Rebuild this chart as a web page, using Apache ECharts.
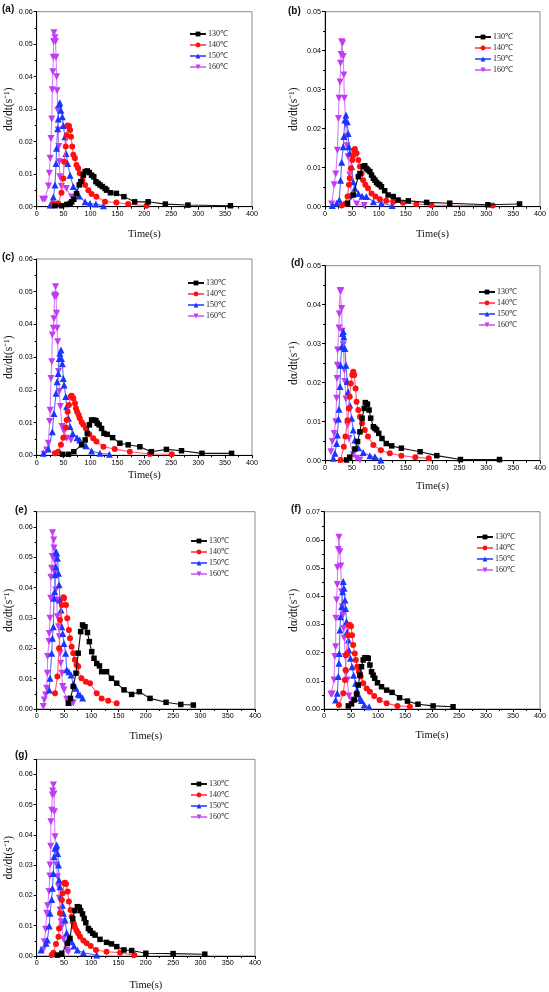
<!DOCTYPE html>
<html><head><meta charset="utf-8">
<script src="https://cdn.jsdelivr.net/npm/echarts@6/dist/echarts.min.js"></script>
<style>html,body{margin:0;padding:0;background:#fff}#c{width:549px;height:992px}</style>
</head><body><div id="c"></div>
<script>
// ---------- DATA ----------
const seriesNames = ['130℃','140℃','150℃','160℃'];
const panelLabels = ['(a)','(b)','(c)','(d)','(e)','(f)','(g)'];
const xTicks = [0,50,100,150,200,250,300,350,400];
const yMaxes = [0.06,0.05,0.06,0.05,0.065,0.07,0.065];

const a130=[[34,0.0003],[46,0.0003],[56,0.0007],[62,0.001],[65,0.0015],[69,0.0023],[74,0.004],[79,0.0067],[82,0.0077],[86.6,0.0097],[90,0.0108],[94,0.011],[97.7,0.0105],[102,0.0097],[106,0.0092],[110,0.0077],[114,0.0072],[117.5,0.0067],[122,0.0062],[127,0.0056],[130,0.0051],[137,0.0043],[148,0.0041],[162,0.0031],[182,0.0015],[207,0.0015],[239,0.0008],[281,0.0005],[360,0.0003]];
const a140=[[31,0.001],[40,0.001],[46,0.0043],[49.5,0.0087],[51,0.0138],[54,0.0185],[55.6,0.022],[57.5,0.025],[60,0.0248],[62,0.0236],[63.7,0.0215],[66,0.0185],[68,0.016],[71,0.0149],[74,0.0128],[77,0.0118],[80,0.0103],[85,0.0082],[90,0.0067],[96,0.0051],[102,0.0039],[111,0.0031],[127,0.0015],[148,0.0013],[170,0.0008],[204,0.0003]];
const a150=[[25,0.0005],[31,0.003],[34,0.0067],[36,0.0133],[37,0.018],[39,0.024],[40,0.027],[41.5,0.0315],[43,0.032],[45,0.0297],[47.6,0.0277],[49.5,0.025],[52.5,0.0215],[54.4,0.0164],[57.5,0.0133],[62,0.0097],[68,0.0062],[74,0.0046],[79,0.0033],[90,0.0015],[99,0.001],[110,0.0008],[124,0.0003]];
const a160=[[11,0.0023],[15,0.0023],[22,0.0064],[23.5,0.0103],[25,0.0149],[26.6,0.021],[28,0.027],[29,0.036],[30,0.0415],[31,0.046],[31.5,0.0508],[32,0.0535],[34,0.052],[35,0.0508],[36,0.046],[37,0.04],[38,0.0357],[39,0.0297],[40,0.0236],[41,0.0185],[42,0.0138],[43,0.0092],[46,0.0062],[55,0.0056],[65,0.003]];

const b130=[[42,0.0009],[52.5,0.003],[62,0.0077],[65,0.0085],[71,0.0103],[74,0.0105],[77,0.0098],[80,0.0094],[83.5,0.009],[86.6,0.0081],[90,0.0073],[93,0.0068],[96,0.0062],[99,0.0058],[102,0.0056],[105,0.0051],[111,0.0041],[117.5,0.003],[127,0.0026],[136,0.0017],[155,0.0015],[189,0.0011],[232,0.0009],[303,0.0005],[362,0.0007]];
const b140=[[31,0.0003],[37,0.0007],[42,0.0026],[44.5,0.0056],[46,0.0073],[48,0.0098],[50.7,0.012],[52.5,0.0132],[54.4,0.0145],[55.6,0.0148],[58.7,0.0137],[62,0.012],[65,0.0103],[68,0.0085],[71,0.0068],[75,0.0056],[80,0.0047],[86.6,0.0034],[94,0.0026],[102,0.0019],[114,0.0015],[127,0.0013],[145,0.001],[170,0.0007],[198,0.0004],[312,0.0003]];
const b150=[[13.6,0.0003],[21.6,0.0009],[26.6,0.0017],[29,0.0068],[31,0.0114],[34,0.0154],[35,0.018],[37,0.0222],[39,0.0235],[41.4,0.0218],[43,0.0188],[44.5,0.0154],[46,0.0138],[49.5,0.0103],[52.5,0.0064],[55.6,0.0047],[62,0.0034],[69,0.0027],[77,0.0026],[90,0.0013],[105,0.0009],[125,0.0003]];
const b160=[[12.4,0.0007],[17,0.0056],[20,0.0084],[23,0.0145],[25,0.0226],[26,0.0278],[28,0.032],[29,0.0368],[30,0.039],[31,0.0423],[32.8,0.042],[34,0.0385],[35,0.0338],[36,0.0278],[39,0.021],[40,0.018],[41,0.0156],[43,0.0128],[46,0.0081],[49.5,0.0026],[59,0.0007],[73,0.0003]];

const c130=[[48,0.0003],[59,0.0003],[69,0.0011],[83.5,0.0032],[90,0.0047],[94,0.0067],[98,0.0093],[102,0.0108],[106,0.0108],[110,0.0106],[112.5,0.0098],[116,0.0093],[120.5,0.0082],[125,0.0067],[131,0.0064],[141,0.0054],[154.6,0.0037],[170,0.0032],[191.6,0.0026],[213,0.0011],[241,0.0018],[269,0.0014],[307,0.0006],[362,0.0006]];
const c140=[[34,0.0006],[40,0.0011],[45,0.0032],[49.5,0.0054],[54,0.0085],[55.6,0.0108],[57.5,0.0133],[60,0.0154],[63,0.018],[65,0.0182],[68,0.0174],[71,0.0159],[73,0.0144],[75,0.0133],[78,0.0123],[80,0.0113],[83.5,0.0101],[86.6,0.0093],[91.5,0.0082],[97.7,0.0064],[105,0.0052],[111,0.0042],[124,0.0026],[145,0.0019],[173,0.0011],[210,0.0004],[251,0.0003]];
const c150=[[12.4,0.0006],[21.6,0.0019],[29,0.0072],[32,0.0128],[36,0.019],[38,0.0225],[40,0.025],[42,0.0296],[43,0.0312],[45,0.0322],[46,0.0296],[47.6,0.028],[49.5,0.0235],[51,0.0215],[54,0.018],[55.6,0.0149],[59,0.0113],[62,0.0088],[67,0.0067],[75,0.0054],[80,0.0047],[91.5,0.0029],[102,0.0013],[117.5,0.0006],[135,0.0003]];
const c160=[[14,0.0003],[18.5,0.0016],[21.6,0.0037],[24,0.0103],[25,0.0138],[26.6,0.0235],[28,0.0286],[29,0.0368],[31,0.0388],[32,0.0417],[33,0.0485],[34,0.049],[35,0.0515],[36,0.0485],[37,0.0434],[38,0.0388],[39,0.0347],[40.5,0.0256],[42,0.0195],[44,0.0149],[47,0.0088],[51,0.0072],[55.6,0.0052],[63.7,0.0047]];

const d130=[[40,0.0002],[46,0.0009],[55.6,0.003],[60.6,0.0049],[65,0.0074],[69,0.0109],[73,0.0134],[75,0.0149],[79,0.0145],[82,0.013],[85,0.0109],[90,0.0087],[93,0.0083],[96,0.0079],[100,0.007],[106,0.0057],[114,0.0044],[124,0.0038],[142,0.0032],[177,0.0023],[208,0.0013],[252,0.0003],[324.6,0.0003]];
const d140=[[29,0.0002],[35,0.0036],[38,0.0062],[42,0.0104],[44.5,0.0134],[46,0.0164],[48,0.0198],[50.7,0.022],[52.5,0.0228],[54.4,0.022],[57,0.0185],[58.7,0.0151],[62,0.013],[65,0.0113],[69,0.0096],[74,0.0079],[80,0.0062],[90,0.004],[104,0.0027],[120.5,0.0019],[142,0.0013],[168,0.0009],[193,0.0006]];
const d150=[[15.5,0.0006],[18.5,0.0019],[21.6,0.0044],[23,0.0066],[25,0.0107],[26,0.0132],[28,0.019],[29,0.0245],[31,0.0292],[32.8,0.0326],[34,0.0331],[35,0.0318],[37,0.0288],[39,0.0245],[41.4,0.0203],[43,0.0177],[46,0.0143],[49.5,0.0109],[52.5,0.0079],[55.6,0.0053],[62,0.0033],[71,0.0021],[83.5,0.0013],[93,0.001],[104,0.0002]];
const d160=[[11,0.0023],[13.6,0.0049],[17,0.007],[20,0.01],[21.6,0.016],[22.3,0.0211],[23,0.0245],[23.5,0.0284],[26,0.034],[26.6,0.0376],[28,0.0436],[29.7,0.0436],[31,0.039],[32,0.0332],[34,0.0297],[36,0.0232],[37,0.0203],[39,0.0158],[42,0.0091],[44.5,0.0057],[52.5,0.0015],[59,0.0006],[65,0.0002]];

const e130=[[58,0.0019],[62,0.0035],[67,0.0074],[72,0.0118],[76,0.0184],[80.6,0.0255],[84,0.0277],[88.5,0.0271],[93,0.0252],[96.5,0.0222],[100.8,0.0189],[105,0.0167],[110,0.015],[115,0.0142],[119,0.0123],[128,0.0123],[137,0.0101],[146.6,0.0085],[160,0.0063],[174,0.0048],[188,0.0057],[207.6,0.0035],[237,0.0022],[264,0.0015],[287,0.0013]];
const e140=[[33.6,0.0052],[38,0.0107],[41,0.02],[42.7,0.0293],[46,0.0343],[49,0.0368],[50,0.0365],[53.7,0.0343],[56,0.0299],[59,0.026],[61,0.0233],[64,0.0205],[67,0.0184],[70,0.0162],[73,0.0145],[76,0.014],[82,0.0101],[90,0.009],[97.7,0.0085],[110,0.0052],[119,0.0035],[131,0.0027],[146.6,0.0019]];
const e150=[[23,0.0063],[24.4,0.0101],[27.5,0.0184],[28.7,0.0233],[30.5,0.0271],[31.7,0.0365],[33,0.0387],[33.6,0.0442],[35,0.0469],[35.4,0.0519],[36.6,0.0513],[38,0.0497],[40,0.0447],[41,0.0409],[42.7,0.0359],[44.6,0.0326],[46,0.0271],[47.6,0.0249],[50,0.0216],[53,0.0184],[55,0.0129],[59,0.0123],[63,0.0112],[67,0.0082],[72,0.0068],[76,0.0049],[79.4,0.0046],[84,0.0036]];
const e160=[[12,0.0008],[14,0.003],[16.5,0.0046],[18.3,0.0068],[19.5,0.0118],[20,0.0173],[22.6,0.0222],[23,0.0249],[24.4,0.0299],[25.6,0.0365],[26,0.0434],[27.5,0.0464],[28.5,0.0502],[29,0.0581],[31.2,0.0557],[31.7,0.053],[32.4,0.0491],[33.6,0.0447],[35,0.0392],[36.6,0.0359],[38,0.0304],[40,0.0271],[41.5,0.0238],[42.7,0.0184],[44,0.0151],[46,0.0118],[47.6,0.0074],[50,0.0063],[55,0.0032],[58,0.0019],[64,0.0019],[67,0.0021]];

const f130=[[45,0.0011],[51,0.0018],[56,0.0032],[60.3,0.0053],[63.4,0.0085],[66.5,0.012],[69.5,0.015],[72.6,0.0174],[75.7,0.0182],[78.8,0.0182],[82,0.018],[85,0.0156],[88,0.0132],[91,0.012],[94,0.0109],[99,0.0093],[106.5,0.0079],[116,0.0067],[126,0.0059],[140,0.004],[154.5,0.0028],[174,0.0017],[202,0.0011],[239,0.0008]];
const f140=[[27.7,0.0014],[35.7,0.0056],[38.8,0.0103],[40,0.0138],[40.6,0.0191],[43,0.0197],[45,0.0262],[46,0.0298],[48,0.0298],[50,0.0294],[52,0.0262],[54,0.0227],[57,0.0197],[59,0.0174],[61.5,0.015],[64.6,0.0132],[66.5,0.0126],[68,0.0115],[72.6,0.0091],[79,0.0073],[85,0.0061],[93,0.0046],[103,0.0032],[116,0.002],[136,0.0011],[159,0.0008]];
const f150=[[21.5,0.0032],[24.6,0.0056],[26.5,0.0115],[27.7,0.0162],[28.3,0.0197],[29.5,0.028],[30.8,0.0327],[32.6,0.0363],[34.5,0.0416],[35.7,0.0452],[37,0.0428],[38.8,0.0387],[40,0.0357],[41.8,0.031],[43,0.0274],[45,0.0245],[46,0.0209],[49,0.018],[52,0.015],[55,0.012],[58.5,0.0091],[61,0.0067],[63,0.0053],[66.5,0.0038],[69.5,0.003],[74.5,0.0014],[83.7,0.0008]];
const f160=[[13,0.0052],[15,0.0053],[18.5,0.0103],[20,0.0186],[21.5,0.0221],[22,0.0322],[23.4,0.0387],[24.6,0.0442],[25,0.0502],[26.5,0.0566],[27.7,0.0609],[29.5,0.0558],[31,0.0507],[32.6,0.0416],[34,0.0363],[35,0.0333],[36.3,0.0286],[37.5,0.0251],[39.4,0.0186],[40.6,0.0126],[43,0.0103],[46,0.0046],[51,0.0032]];

const g130=[[38,0.0003],[46,0.0009],[56,0.0042],[61,0.0058],[66,0.0124],[70,0.015],[74.5,0.0163],[78,0.0161],[80.6,0.015],[84,0.0139],[87,0.0124],[90,0.011],[94.7,0.0091],[98,0.0084],[102.6,0.0075],[107,0.0069],[116,0.0055],[128,0.0045],[137,0.004],[146.6,0.0031],[160,0.002],[174,0.0018],[200,0.0009],[250,0.0008],[308,0.0006]];
const g140=[[27.5,0.0003],[30.5,0.0011],[35.4,0.004],[40,0.0064],[41,0.0091],[42.7,0.0141],[46,0.0185],[47.6,0.0207],[50,0.024],[52,0.0242],[53.7,0.0238],[56.8,0.0213],[59,0.018],[62,0.0152],[64,0.013],[66,0.0113],[68.4,0.0106],[70,0.0095],[73,0.0084],[76,0.0075],[79.4,0.0064],[85.5,0.0051],[91.6,0.0042],[99,0.0033],[108.7,0.002],[128,0.0014],[152.7,0.0011],[179,0.0003]];
const g150=[[8,0.002],[17,0.0042],[19.5,0.0053],[23,0.0099],[24.4,0.0141],[27.5,0.0187],[28.7,0.0224],[30.5,0.0273],[31.7,0.0328],[33.6,0.0356],[35.4,0.0361],[36.6,0.0367],[38.5,0.0339],[40,0.0301],[41,0.0251],[42.7,0.0229],[44.6,0.0196],[47,0.0168],[49,0.0141],[52,0.0119],[55,0.0077],[59,0.0062],[64,0.0047],[68.4,0.0033],[74.5,0.002],[85.5,0.0011],[110,0.0003]];
const g160=[[12,0.002],[14,0.0047],[16.5,0.0088],[18.3,0.0141],[20,0.0166],[22.6,0.0213],[24,0.0264],[24.4,0.0301],[25.6,0.0363],[26,0.0444],[27.5,0.0482],[28.7,0.0532],[29.3,0.0545],[30.5,0.0565],[31.7,0.0535],[32.4,0.0477],[33.6,0.0394],[35,0.0345],[36.6,0.0301],[38,0.0262],[40,0.0229],[41.5,0.0191],[42.7,0.0152],[44.6,0.0113],[46,0.0097],[49,0.0055],[55,0.002],[58,0.0014]];

const panelData = [
  [a130,a140,a150,a160],[b130,b140,b150,b160],[c130,c140,c150,c160],
  [d130,d140,d150,d160],[e130,e140,e150,e160],[f130,f140,f150,f160],[g130,g140,g150,g160]
];

// ---------- LAYOUT / STYLE ----------
const layout = [
  {grid:[36.7,11.7,215.3,195], leg:[184,25], lab:[2,4],  xg:22, yg:18},
  {grid:[325,11.7,215.7,195],  leg:[469,28], lab:[288,6], xg:22, yg:25},
  {grid:[36.7,259,215.3,196.3],leg:[182,274],lab:[2,252], xg:14, yg:19},
  {grid:[325,265.7,215.7,195], leg:[473,283],lab:[291,258],xg:20, yg:25},
  {grid:[36.7,511.7,218.3,197.3],leg:[185,532],lab:[15,505],xg:22, yg:19},
  {grid:[324,511.7,216.7,197.3],leg:[471,528],lab:[291,504],xg:21, yg:24},
  {grid:[36.7,759.3,218.3,196.7],leg:[185,775],lab:[15,750],xg:24, yg:19}
];
const sty = [
  {symbol:'rect', rot:0, c:'#000000', l:'#111111', size:5.5},
  {symbol:'circle', rot:0, c:'#ff1010', l:'#ff5a78', size:6},
  {symbol:'triangle', rot:0, c:'#1a35ff', l:'#5a68ff', size:7},
  {symbol:'triangle', rot:180, c:'#c23cf2', l:'#d77ef5', size:7}
];
const serif = '"Liberation Serif","Times New Roman",serif';
const sans = '"Liberation Sans",Arial,sans-serif';

const grids=[], xAxes=[], yAxes=[], series=[], legends=[], graphics=[];
layout.forEach((L,i)=>{
  grids.push({left:L.grid[0], top:L.grid[1], width:L.grid[2], height:L.grid[3],
    show:true, borderColor:'#8a8a8a', borderWidth:1, backgroundColor:'transparent'});
  xAxes.push({type:'value', gridIndex:i, min:xTicks[0], max:xTicks[xTicks.length-1], interval:xTicks[1]-xTicks[0],
    name:'Time(s)', nameLocation:'middle', nameGap:L.xg,
    nameTextStyle:{fontFamily:serif, fontSize:10.5, color:'#111'},
    axisLine:{lineStyle:{color:'#000', width:1}}, axisTick:{length:3, lineStyle:{color:'#000'}},
    minorTick:{show:true, splitNumber:2, length:2, lineStyle:{color:'#000'}},
    axisLabel:{fontFamily:sans, fontSize:7.2, color:'#000', margin:4},
    splitLine:{show:false}});
  yAxes.push({type:'value', gridIndex:i, min:0, max:yMaxes[i], interval:0.01,
    name:'dα/dt(s⁻¹)', nameLocation:'middle', nameGap:L.yg,
    nameTextStyle:{fontFamily:serif, fontSize:11.5, color:'#111'},
    axisLine:{lineStyle:{color:'#000', width:1}}, axisTick:{length:3, lineStyle:{color:'#000'}},
    minorTick:{show:true, splitNumber:2, length:2, lineStyle:{color:'#000'}},
    axisLabel:{fontFamily:sans, fontSize:7.2, color:'#000', margin:4,
      showMaxLabel: Math.abs(yMaxes[i]*100 - Math.round(yMaxes[i]*100))<1e-6,
      formatter:v=>v.toFixed(2)},
    splitLine:{show:false}});
  panelData[i].forEach((d,k)=>{
    const s=sty[k];
    series.push({type:'line', name:seriesNames[k], xAxisIndex:i, yAxisIndex:i, data:d,
      symbol:s.symbol, symbolRotate:s.rot, symbolSize:s.size, showSymbol:true,
      itemStyle:{color:s.c}, lineStyle:{color:s.l, width:1.1}, z:10-k, animation:false});
  });
  legends.push({orient:'vertical', left:L.leg[0], top:L.leg[1], data:seriesNames,
    itemWidth:16, itemHeight:6, itemGap:3, selectedMode:false,
    textStyle:{fontFamily:serif, fontSize:8, color:'#222', padding:[0,0,0,-3]}});
  graphics.push({type:'text', left:L.lab[0], top:L.lab[1],
    style:{text:panelLabels[i], font:'bold 10px '+sans, fill:'#111'}});
});

const chart = echarts.init(document.getElementById('c'), null, {renderer:'canvas'});
chart.setOption({animation:false, backgroundColor:'#fff',
  grid:grids, xAxis:xAxes, yAxis:yAxes, series:series, legend:legends, graphic:graphics});
</script></body></html>
